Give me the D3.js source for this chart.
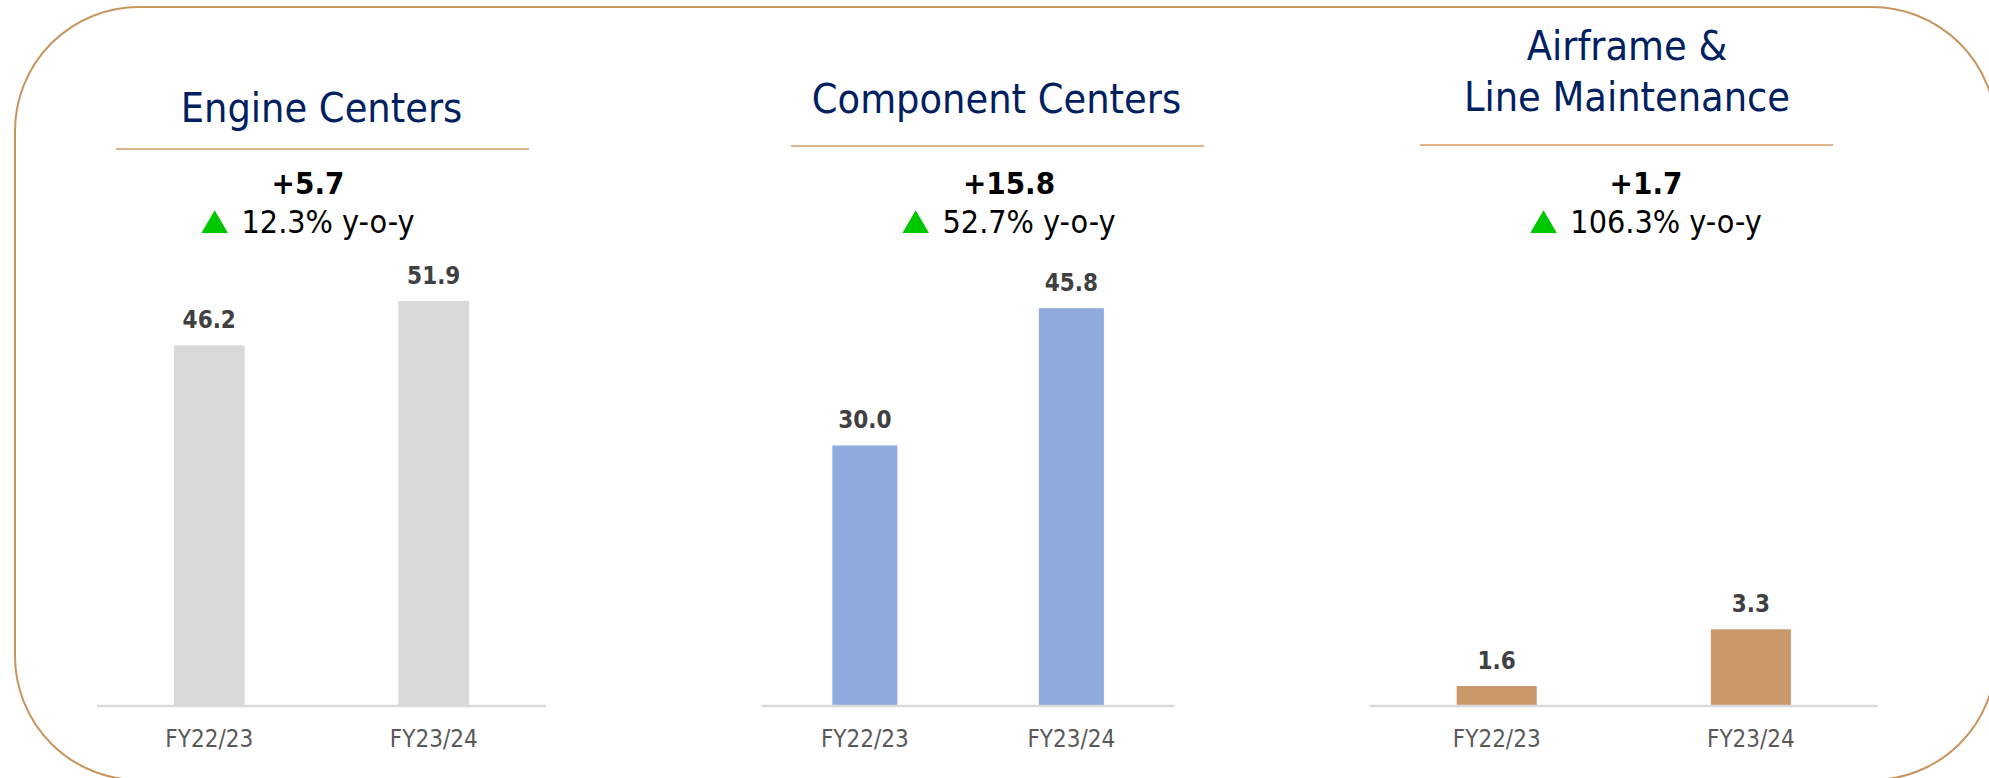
<!DOCTYPE html>
<html>
<head>
<meta charset="utf-8">
<script src="https://cdn.jsdelivr.net/npm/d3@7"></script>
<style>
  html, body { margin: 0; padding: 0; background: #ffffff; }
  svg { display: block; }
  text { font-family: "DejaVu Sans Condensed", "DejaVu Sans", sans-serif; font-stretch: condensed; }
</style>
</head>
<body>
<svg id="chart" width="1989" height="778"></svg>
<script>
// ---- data ----
const categories = ["FY22/23", "FY23/24"];
const engineValues = [46.2, 51.9];
const componentValues = [30.0, 45.8];
const airframeValues = [1.6, 3.3];
const panelTitles = [["Engine Centers"], ["Component Centers"], ["Airframe &", "Line Maintenance"]];
const deltaLabels = ["+5.7", "+15.8", "+1.7"];
const yoyLabels = ["12.3% y-o-y", "52.7% y-o-y", "106.3% y-o-y"];
const barColors = ["#d9d9d9", "#8faadc", "#c9996b"];
const yDomains = [[0, 60], [0, 50], [1, 4]];

// ---- layout ----
const W = 1989, H = 778;
const svg = d3.select("#chart");
const baseY = 706;

svg.append("rect")
  .attr("x", 15).attr("y", 7)
  .attr("width", 1981).attr("height", 773)
  .attr("rx", 124).attr("ry", 124)
  .attr("fill", "none")
  .attr("stroke", "#c8955f")
  .attr("stroke-width", 2);

const layout = [
  { axis: [97, 546], top: 237.7, titleX: 321.5, titleY: [122], sep: [116, 529, 149], infoX: 308 },
  { axis: [761.6, 1174.6], top: 271.75, titleX: 996.5, titleY: [113], sep: [791, 1204, 146], infoX: 1009 },
  { axis: [1369.6, 1878], top: 605.95, titleX: 1627, titleY: [60, 111], sep: [1420, 1833, 145], infoX: 1646 }
];
const seriesValues = [engineValues, componentValues, airframeValues];

layout.forEach((L, i) => {
  const g = svg.append("g");
  const values = seriesValues[i];

  const x = d3.scaleBand()
    .domain(categories)
    .range(L.axis)
    .paddingInner(0.685)
    .paddingOuter(0.3425);
  const y = d3.scaleLinear()
    .domain(yDomains[i])
    .range([baseY, L.top]);

  // title
  panelTitles[i].forEach((t, k) => {
    g.append("text")
      .attr("x", L.titleX).attr("y", L.titleY[k])
      .attr("text-anchor", "middle")
      .attr("font-size", 41)
      .attr("fill", "#002060")
      .text(t);
  });

  // separator
  g.append("line")
    .attr("x1", L.sep[0]).attr("x2", L.sep[1])
    .attr("y1", L.sep[2]).attr("y2", L.sep[2])
    .attr("stroke", "#dcb58d").attr("stroke-width", 2);

  // delta
  g.append("text")
    .attr("x", L.infoX).attr("y", 194)
    .attr("text-anchor", "middle")
    .attr("font-size", 31)
    .attr("font-weight", "bold")
    .attr("fill", "#000000")
    .text(deltaLabels[i]);

  // yoy with triangle
  const yoy = g.append("text")
    .attr("y", 233)
    .attr("font-size", 32)
    .attr("fill", "#000000")
    .text(yoyLabels[i]);
  const tw = yoy.node().getComputedTextLength();
  const triW = 26.6, triH = 22.7, gap = 13.5;
  const total = triW + gap + tw;
  const x0 = L.infoX - total / 2;
  yoy.attr("x", x0 + triW + gap);
  g.append("path")
    .attr("d", `M${x0},233 L${x0 + triW},233 L${x0 + triW / 2},${233 - triH} Z`)
    .attr("fill", "#00c800");

  // bars
  g.selectAll("rect.bar")
    .data(values)
    .join("rect")
    .attr("class", "bar")
    .attr("x", (d, j) => x(categories[j]))
    .attr("width", x.bandwidth())
    .attr("y", d => y(d))
    .attr("height", d => baseY - y(d))
    .attr("fill", barColors[i]);

  // value labels
  g.selectAll("text.val")
    .data(values)
    .join("text")
    .attr("class", "val")
    .attr("x", (d, j) => x(categories[j]) + x.bandwidth() / 2)
    .attr("y", d => y(d) - 17)
    .attr("text-anchor", "middle")
    .attr("font-size", 24)
    .attr("font-weight", "bold")
    .attr("fill", "#404040")
    .text(d => d.toFixed(1));

  // x axis
  const axis = g.append("g")
    .attr("transform", `translate(0,${baseY})`)
    .call(d3.axisBottom(x).tickSize(0).tickPadding(0));
  axis.select(".domain")
    .attr("stroke", "#d9d9d9")
    .attr("stroke-width", 2.5)
    .attr("d", `M${L.axis[0]},0H${L.axis[1]}`);
  axis.selectAll(".tick text")
    .attr("font-family", "\"DejaVu Sans Condensed\", \"DejaVu Sans\", sans-serif")
    .attr("font-size", 24)
    .attr("fill", "#595959")
    .attr("dy", null)
    .attr("y", 41);
});
</script>
</body>
</html>
